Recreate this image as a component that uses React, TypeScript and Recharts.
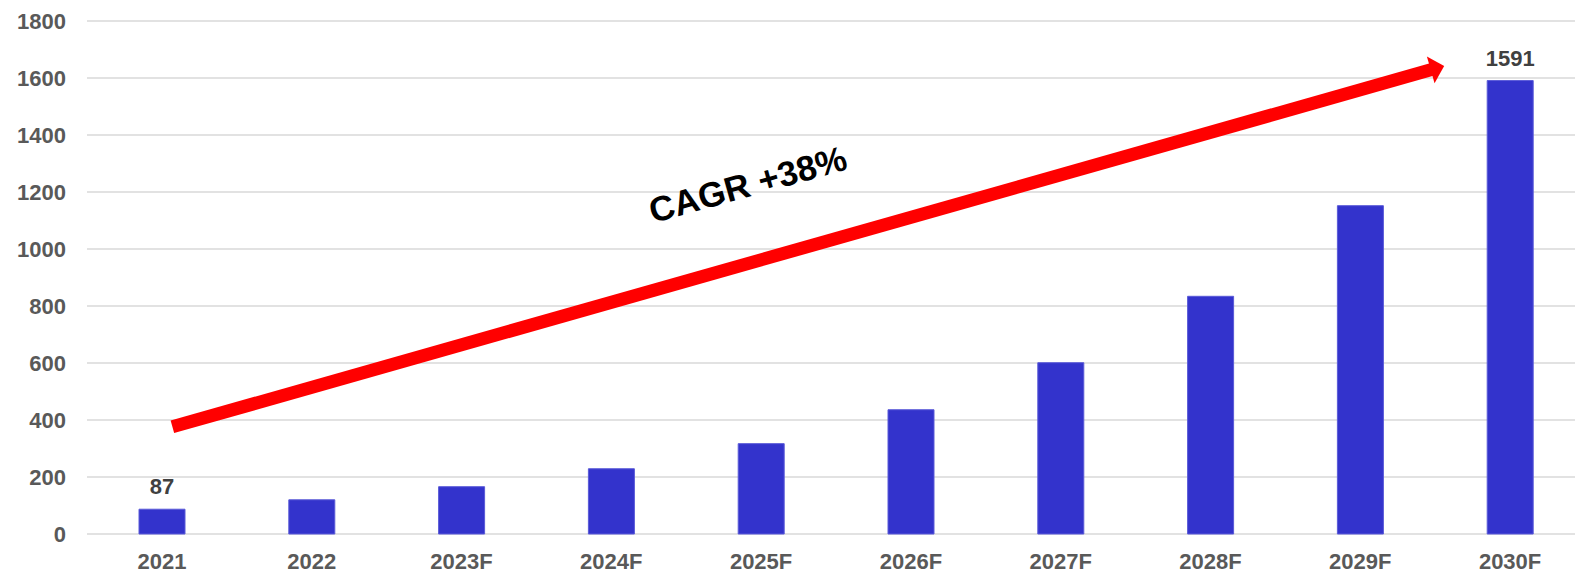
import React from 'react';
import { BarChart, Bar, XAxis, YAxis, CartesianGrid, ReferenceLine, ReferenceDot, LabelList } from 'recharts';

const years = ['2021', '2022', '2023F', '2024F', '2025F', '2026F', '2027F', '2028F', '2029F', '2030F'];
const values = [87, 120, 166, 229, 317, 436, 601, 834, 1152, 1591];
const shownLabels = [87, null, null, null, null, null, null, null, null, 1591];
const yTicks = [0, 200, 400, 600, 800, 1000, 1200, 1400, 1600, 1800];

// trend arrow, on a hidden 0..10 numeric x axis (one unit per category)
const arrowStart = { x: 0.57, y: 376 };
const arrowEnd = { x: 9.06, y: 1642 };
const cagrText = { x: 4.41, y: 1228, text: 'CAGR +38%' };

const data = years.map((year, i) => ({ year, slot: i + 0.5, value: values[i], label: shownLabels[i] }));

const FONT = '"Liberation Sans", Arial, sans-serif';

function Arrow(props: any) {
    const { x1, y1, x2, y2 } = props;
    const dx = x2 - x1;
    const dy = y2 - y1;
    const len = Math.sqrt(dx * dx + dy * dy);
    const ux = dx / len;
    const uy = dy / len;
    const headLen = 14;
    const halfBase = 14;
    const bx = x2 - ux * headLen;
    const by = y2 - uy * headLen;
    return (
        <g>
            <line x1={x1} y1={y1} x2={bx + ux} y2={by + uy} stroke="#FF0000" strokeWidth={13} />
            <polygon
                points={`${x2},${y2} ${bx - uy * halfBase},${by + ux * halfBase} ${bx + uy * halfBase},${by - ux * halfBase}`}
                fill="#FF0000"
            />
        </g>
    );
}

function CagrLabel(props: any) {
    const { cx, cy } = props;
    return (
        <text
            x={cx}
            y={cy}
            textAnchor="middle"
            dominantBaseline="central"
            transform={`rotate(-15.5 ${cx} ${cy})`}
            fontFamily={FONT}
            fontWeight="bold"
            fontSize={35}
            fill="#000000"
        >
            {cagrText.text}
        </text>
    );
}

function BarValue(props: any) {
    const { x, y, width, value } = props;
    if (value == null) return null;
    return (
        <text x={x + width / 2} y={y - 15} textAnchor="middle" fontFamily={FONT} fontWeight="bold" fontSize={22} fill="#404040">
            {value}
        </text>
    );
}

export default function App() {
    return (
        <div style={{ position: 'absolute', left: 0, top: 0, width: 1575, height: 573, overflow: 'hidden', background: '#fff' }}>
            <BarChart width={1585} height={573} data={data} margin={{ top: 21, right: 0, bottom: 0, left: 0 }}>
                <CartesianGrid vertical={false} stroke="#D9D9D9" strokeWidth={1.5} />
                <XAxis
                    dataKey="year"
                    height={39}
                    axisLine={false}
                    tickLine={false}
                    tickMargin={13}
                    tick={{ fill: '#595959', fontSize: 22, fontWeight: 'bold', fontFamily: FONT }}
                />
                <XAxis xAxisId="num" dataKey="slot" type="number" domain={[0, 10]} allowDataOverflow hide />
                <YAxis
                    width={87}
                    domain={[0, 1800]}
                    ticks={yTicks}
                    axisLine={false}
                    tickLine={false}
                    tickMargin={15}
                    tick={{ fill: '#595959', fontSize: 22, fontWeight: 'bold', fontFamily: FONT }}
                />
                <Bar dataKey="value" fill="#3333CC" stroke="#5a5ad8" strokeWidth={1} barSize={46} isAnimationActive={false}>
                    <LabelList dataKey="label" content={<BarValue />} />
                </Bar>
                <ReferenceLine
                    xAxisId="num"
                    segment={[arrowStart, arrowEnd]}
                    ifOverflow="visible"
                    shape={<Arrow />}
                />
                <ReferenceDot xAxisId="num" x={cagrText.x} y={cagrText.y} ifOverflow="visible" shape={<CagrLabel />} />
            </BarChart>
        </div>
    );
}
